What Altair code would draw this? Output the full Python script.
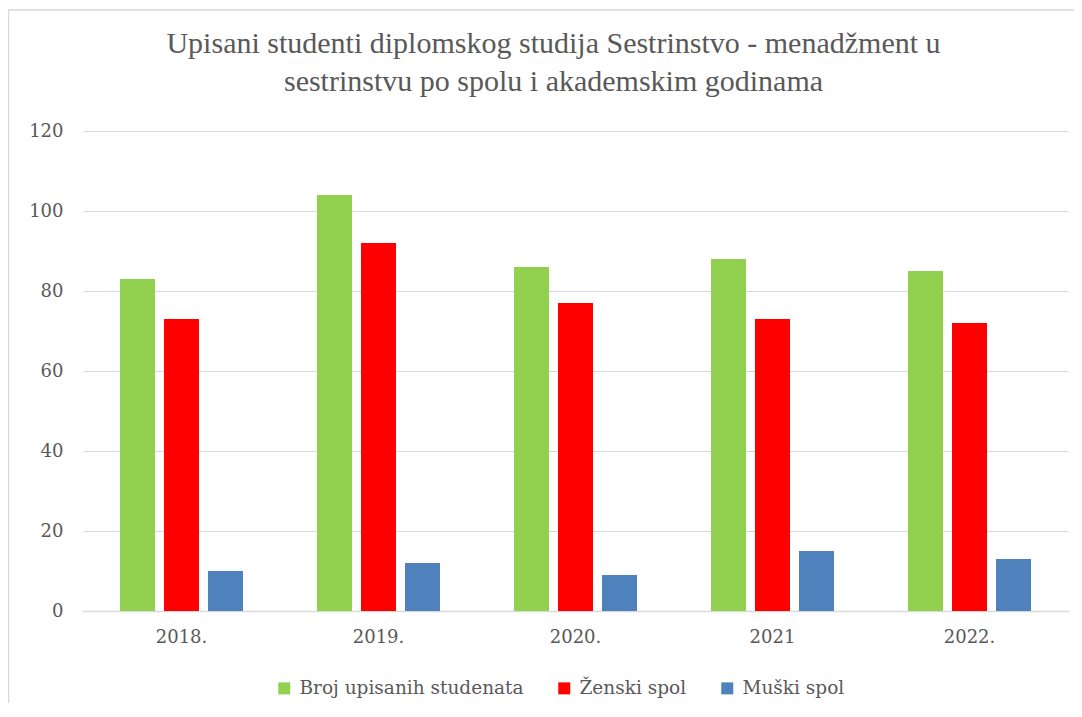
import altair as alt
import pandas as pd

years = ["2018.", "2019.", "2020.", "2021", "2022."]
series = ["Broj upisanih studenata", "Ženski spol", "Muški spol"]
broj = [83, 104, 86, 88, 85]
zenski = [73, 92, 77, 73, 72]
muski = [10, 12, 9, 15, 13]
colors = ["#92D050", "#FF0000", "#4F81BD"]

rows = []
for i, y in enumerate(years):
    for s, vals in zip(series, [broj, zenski, muski]):
        rows.append({"godina": y, "serija": s, "vrijednost": vals[i]})
df = pd.DataFrame(rows)

TXT = "#595959"
GRID = "#D9D9D9"
SERIF = "DejaVu Serif"

bars = alt.Chart(df).mark_bar().encode(
    x=alt.X("godina:N", sort=years, title=None,
            scale=alt.Scale(paddingInner=0, paddingOuter=0),
            axis=alt.Axis(labelAngle=0, ticks=False, domainColor=GRID, domainWidth=1.5,
                          labelFont=SERIF, labelFontSize=18, labelColor=TXT, labelPadding=17)),
    xOffset=alt.XOffset("serija:N", sort=series,
                        scale=alt.Scale(paddingInner=0.2045, paddingOuter=0.841)),
    y=alt.Y("vrijednost:Q", title=None,
            scale=alt.Scale(domain=[0, 120]),
            axis=alt.Axis(values=[0, 20, 40, 60, 80, 100, 120], ticks=False, domain=False,
                          gridColor=GRID, gridWidth=1,
                          labelFont=SERIF, labelFontSize=18, labelColor=TXT, labelPadding=20)),
    color=alt.Color("serija:N", sort=series,
                    scale=alt.Scale(domain=series, range=colors),
                    legend=alt.Legend(title=None, orient="none", direction="horizontal",
                                      legendX=192, legendY=548,
                                      symbolType="square", symbolSize=144, symbolStrokeWidth=0,
                                      labelFont=SERIF, labelFontSize=18.5, labelColor=TXT,
                                      labelLimit=400, labelOffset=6, columnPadding=31)),
)

border = alt.Chart(pd.DataFrame({"a": [0]})).mark_rect(
    fill=None, stroke=GRID, strokeWidth=1.5
).encode(
    x=alt.value(-74.5), x2=alt.value(1200), y=alt.value(-121), y2=alt.value(800)
)

chart = alt.layer(border, bars).properties(
    width=985, height=480,
    autosize=alt.AutoSizeParams(type="none"),
    padding={"left": 75, "top": 123, "right": 6, "bottom": 92},
    title=alt.TitleParams(
        text=["Upisani studenti diplomskog studija Sestrinstvo - menadžment u",
              "sestrinstvu po spolu i akademskim godinama"],
        font="'Liberation Serif', 'Times New Roman', serif", fontSize=30,
        fontWeight="normal", color=TXT,
        lineHeight=38, anchor="middle", frame="group", dx=-22, offset=-88,
    ),
).configure_view(stroke=None)

chart.save("out.html", embed_options={"renderer": "svg", "actions": False})
